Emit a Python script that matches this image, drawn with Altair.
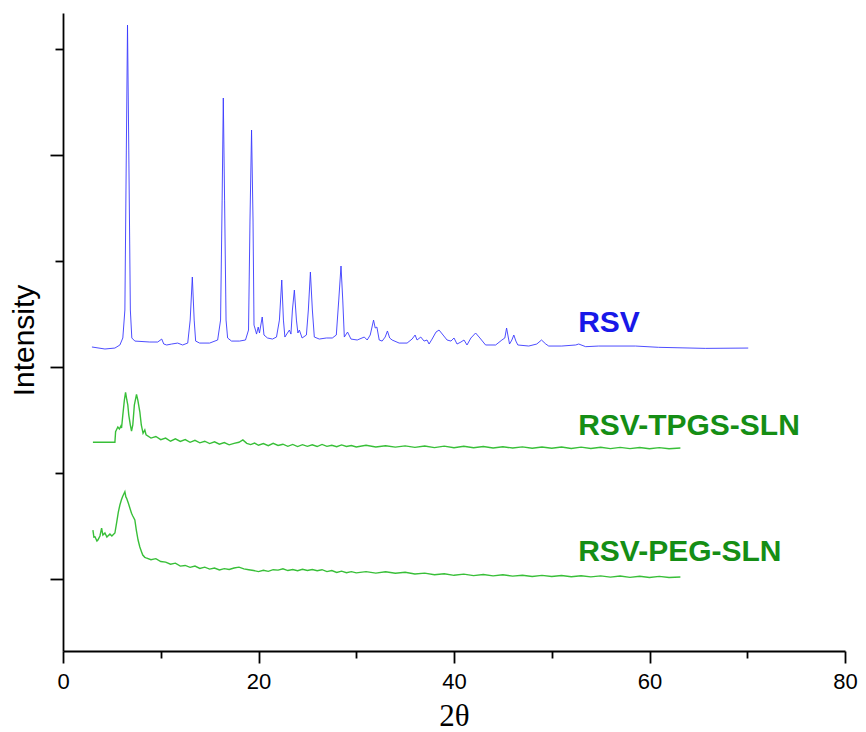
import altair as alt
import pandas as pd

# ---------------- data (2-theta in degrees, intensity in arbitrary stacked units) ----------------
rsv_2theta = [2.96, 4.29, 5.31, 5.82, 6.12, 6.33, 6.48, 6.60, 6.73, 6.89, 7.04, 7.35, 8.88, 9.69,
              10.10, 10.31, 10.61, 11.12, 11.73, 12.24, 12.76, 13.01, 13.23, 13.42, 13.57, 13.98,
              15.00, 15.82, 16.12, 16.28, 16.40, 16.53, 16.68, 16.84, 17.24, 18.06, 18.67, 18.98,
              19.13, 19.29, 19.44, 19.54, 19.69, 19.80, 19.97, 20.10, 20.38, 20.56, 20.92, 21.43,
              21.84, 22.14, 22.38, 22.55, 22.70, 22.96, 23.16, 23.32, 23.47, 23.67, 23.88, 24.03,
              24.18, 24.46, 24.90, 25.10, 25.31, 25.51, 25.71, 26.22, 26.94, 27.55, 27.96, 28.21,
              28.44, 28.62, 28.78, 29.11, 29.46, 30.10, 30.82, 31.12, 31.43, 31.77, 31.94, 32.11,
              32.35, 32.65, 32.96, 33.19, 33.42, 33.67, 34.39, 35.20, 35.71, 36.02, 36.22, 36.60,
              36.94, 37.24, 37.45, 37.76, 38.16, 38.47, 38.88, 39.29, 39.69, 40.00, 40.31, 40.71,
              41.02, 41.33, 41.73, 42.21, 42.65, 43.23, 44.26, 44.90, 45.20, 45.38, 45.51, 45.68,
              45.92, 46.12, 46.33, 46.53, 47.65, 48.47, 48.95, 49.39, 49.69, 51.02, 52.45, 52.76,
              53.47, 54.80, 58.57, 60.92, 65.71, 70.10]
rsv_int = [2189, 2170, 2179, 2208, 2274, 2538, 4047, 5226, 4047, 2538, 2274, 2245, 2236, 2236,
           2264, 2217, 2208, 2217, 2226, 2208, 2226, 2443, 2849, 2443, 2245, 2226,
           2226, 2255, 2443, 3575, 4538, 3575, 2443, 2274, 2245, 2245, 2255, 2349,
           3387, 4236, 3387, 2396, 2349, 2311, 2377, 2321, 2472, 2302, 2274, 2264,
           2283, 2443, 2821, 2443, 2283, 2321, 2349, 2311, 2538, 2726, 2443, 2321,
           2349, 2274, 2302, 2538, 2896, 2538, 2283, 2264, 2274, 2274, 2302, 2632,
           2953, 2632, 2283, 2330, 2264, 2255, 2283, 2255, 2302, 2443, 2368, 2377,
           2255, 2245, 2283, 2340, 2274, 2255, 2226, 2226, 2264, 2302, 2255, 2283,
           2245, 2255, 2217, 2264, 2330, 2349, 2302, 2255, 2245, 2274, 2217, 2236,
           2255, 2208, 2274, 2321, 2274, 2208, 2208, 2255, 2274, 2368, 2302, 2217,
           2255, 2302, 2245, 2208, 2198, 2217, 2255, 2217, 2198, 2198, 2208, 2217,
           2192, 2198, 2198, 2186, 2176, 2179]

tpgs_2theta = [3.06, 5.31, 5.38, 5.51, 5.61, 5.77, 5.92, 5.99, 6.12, 6.28, 6.40, 6.53, 6.63, 6.73,
               6.89, 7.01, 7.14, 7.30, 7.52, 7.65, 7.86, 8.01, 8.19, 8.37,
               8.5, 9.0, 9.5, 10.0, 10.5, 11.0, 11.5, 12.0, 12.5, 13.0, 13.5, 14.0, 14.5, 15.0,
               15.5, 16.0, 16.5, 17.0, 17.5, 18.0, 18.4, 18.8, 19.2, 19.6, 20.0, 20.5, 21.0, 21.5,
               22.0, 22.5, 23.0, 23.5, 24.0, 24.5, 25.0, 25.5, 26.0, 26.5, 27.0, 27.5, 28.0, 28.5,
               29.0, 29.5, 30.0, 31, 32, 33, 34, 35, 36, 37, 38, 39, 40, 41, 42, 43, 44, 45, 46,
               47, 48, 49, 50, 51, 52, 53, 54, 55, 56, 57, 58, 59, 60, 61, 62, 63.16]
tpgs_int = [1290, 1290, 1390, 1415, 1434, 1415, 1443, 1425, 1547, 1689, 1761, 1689, 1642, 1547,
            1453, 1396, 1453, 1642, 1742, 1689, 1578, 1453, 1375, 1406,
            1360, 1330, 1345, 1315, 1330, 1300, 1322, 1298, 1315, 1290, 1308, 1285, 1300, 1278,
            1295, 1272, 1288, 1266, 1280, 1290, 1312, 1280, 1268, 1282, 1262, 1278, 1258, 1280,
            1260, 1272, 1252, 1270, 1250, 1268, 1252, 1266, 1250, 1270, 1252, 1262, 1248, 1265,
            1250, 1260, 1246, 1262, 1246, 1258, 1244, 1256, 1242, 1255, 1240, 1254, 1238, 1252,
            1238, 1250, 1236, 1248, 1236, 1247, 1234, 1246, 1234, 1245, 1232, 1244, 1232, 1243,
            1230, 1242, 1230, 1241, 1229, 1240, 1229, 1236]

peg_2theta = [3.06, 3.16, 3.27, 3.47, 3.57, 3.78, 3.95, 4.08, 4.29, 4.49, 4.80, 5.00, 5.10, 5.31,
              5.48, 5.66, 5.82, 5.97, 6.09, 6.22, 6.33, 6.43, 6.50, 6.68, 6.84, 7.01, 7.14, 7.35,
              7.50, 7.68, 7.86, 8.03, 8.16, 8.37,
              8.5, 9.0, 9.5, 10.0, 10.5, 11.0, 11.5, 12.0, 12.5, 13.0, 13.5, 14.0, 14.5, 15.0,
              15.5, 16.0, 16.5, 17.0, 17.5, 18.0, 18.5, 19.0, 19.5, 20.0, 20.5, 21.0, 21.5,
              22.0, 22.5, 23.0, 23.5, 24.0, 24.5, 25.0, 25.5, 26.0, 26.5, 27.0, 27.5, 28.0, 28.5,
              29.0, 29.5, 30.0, 31, 32, 33, 34, 35, 36, 37, 38, 39, 40, 41, 42, 43, 44, 45, 46,
              47, 48, 49, 50, 51, 52, 53, 54, 55, 56, 57, 58, 59, 60, 61, 62, 63.16]
peg_int = [462, 396, 399, 358, 368, 406, 481, 415, 434, 396, 425, 406, 415, 434,
           528, 632, 698, 745, 776, 802, 824, 774, 764, 717, 670, 620, 594, 557,
           462, 368, 302, 258, 226, 205,
           200, 182, 192, 165, 160, 140, 150, 122, 128, 110, 122, 100, 112, 94,
           104, 86, 98, 90, 104, 112, 96, 88, 80, 70, 82, 72, 88,
           84, 96, 80, 90, 78, 92, 80, 90, 78, 88, 70, 80, 62, 74,
           60, 70, 58, 70, 56, 68, 55, 64, 48, 56, 40, 50, 35, 46, 32, 42, 30, 40, 27,
           36, 24, 34, 24, 33, 22, 31, 20, 30, 18, 28, 16, 26, 15, 25, 14, 19]

series_names = ["RSV", "RSV-TPGS-SLN", "RSV-PEG-SLN"]
x_major = [0, 20, 40, 60, 80]
x_minor = [10, 30, 50, 70]
y_major = [0, 2000, 4000]
y_minor = [1000, 3000, 5000]

# ---------------- styling ----------------
BLUE_LINE = "#3a3aff"
GREEN_LINE = "#22b822"
BLUE_TEXT = "#1818e8"
GREEN_TEXT = "#158e15"

xscale = alt.Scale(domain=[0, 80], nice=False, zero=False)
yscale = alt.Scale(domain=[-679, 5340], nice=False, zero=False)

df_rsv = pd.DataFrame({"two_theta": rsv_2theta, "intensity": rsv_int})
df_tpgs = pd.DataFrame({"two_theta": tpgs_2theta, "intensity": tpgs_int})
df_peg = pd.DataFrame({"two_theta": peg_2theta, "intensity": peg_int})

rsv_line = alt.Chart(df_rsv).mark_line(color=BLUE_LINE, strokeWidth=1, opacity=0.9).encode(
    x=alt.X("two_theta:Q", scale=xscale,
            axis=alt.Axis(values=x_major, orient="bottom", title="2θ", tickSize=12,
                          labelFont="Liberation Sans", labelFontSize=22, labelColor="black",
                          labelPadding=8, labelFlush=False,
                          titleFont="Liberation Serif", titleFontSize=31,
                          titleFontWeight="normal", titleColor="black",
                          titleY=74, titleBaseline="alphabetic", titleAlign="center")),
    y=alt.Y("intensity:Q", scale=yscale,
            axis=alt.Axis(values=y_major, orient="left", labels=False, title="Intensity",
                          tickSize=13, titleFont="Liberation Sans", titleFontSize=30,
                          titleFontWeight="normal", titleColor="black",
                          titleX=-30, titleY=327, titleAngle=270,
                          titleBaseline="alphabetic", titleAlign="center")),
)

tpgs_line = alt.Chart(df_tpgs).mark_line(color=GREEN_LINE, strokeWidth=1.4, opacity=0.9).encode(
    x=alt.X("two_theta:Q", scale=xscale,
            axis=alt.Axis(values=x_minor, orient="bottom", labels=False, title="",
                          tickSize=7, domain=False)),
    y=alt.Y("intensity:Q", scale=yscale,
            axis=alt.Axis(values=y_minor, orient="left", labels=False, title="",
                          tickSize=8, domain=False)),
)

peg_line = alt.Chart(df_peg).mark_line(color=GREEN_LINE, strokeWidth=1.4, opacity=0.9).encode(
    x=alt.X("two_theta:Q", scale=xscale, axis=None),
    y=alt.Y("intensity:Q", scale=yscale, axis=None),
)


def label(name, xpos, ypos, color):
    return alt.Chart(pd.DataFrame({"name": [name]})).mark_text(
        align="left", baseline="alphabetic", font="Liberation Sans", fontSize=30,
        fontWeight="bold", color=color,
    ).encode(
        x=alt.XDatum(xpos, type="quantitative", scale=xscale, axis=None),
        y=alt.YDatum(ypos, type="quantitative", scale=yscale, axis=None),
        text="name:N",
    )


chart = alt.layer(
    rsv_line, tpgs_line, peg_line,
    label(series_names[0], 52.7, 2330, BLUE_TEXT),
    label(series_names[1], 52.7, 1358, GREEN_TEXT),
    label(series_names[2], 52.7, 170, GREEN_TEXT),
).resolve_axis(x="independent", y="independent").properties(
    width=782, height=638,
    autosize=alt.AutoSizeParams(type="none"),
    padding={"left": 55, "top": 5, "right": 13, "bottom": 82},
    background="white",
).configure_view(stroke=None).configure_axis(
    grid=False, domainColor="black", domainWidth=1.8, tickColor="black", tickWidth=1.8,
)

chart.save("out.html", embed_options={"renderer": "svg", "actions": False})
